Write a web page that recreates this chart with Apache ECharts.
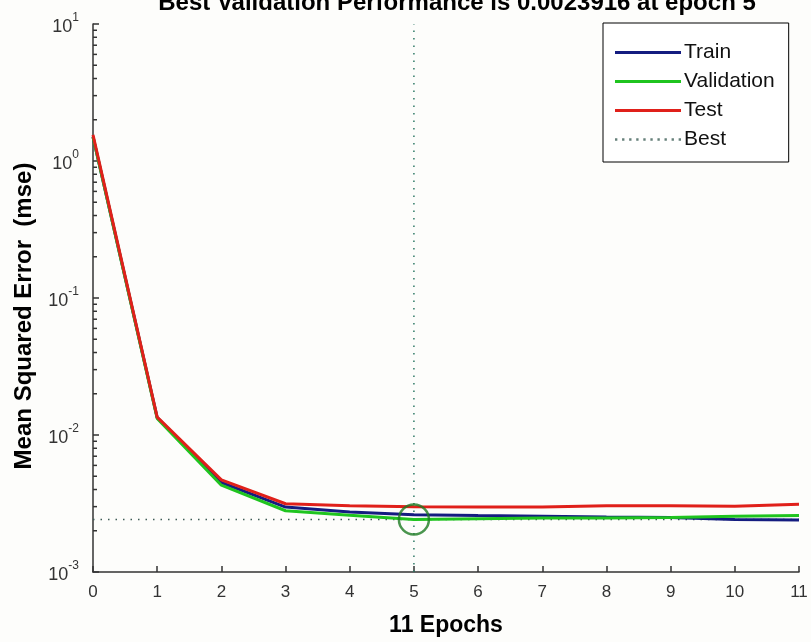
<!DOCTYPE html>
<html lang="en">
<head>
    <meta charset="UTF-8">
    <title>Performance</title>
    <style>
        html, body {
            margin: 0;
            padding: 0;
            background: #fdfdfb;
        }
        #main {
            width: 811px;
            height: 642px;
        }
    </style>
    <script src="https://cdn.jsdelivr.net/npm/echarts@6/dist/echarts.min.js"></script>
</head>
<body>
<div id="main"></div>
<script>
    // epochs 0..11
    var epochs = [0, 1, 2, 3, 4, 5, 6, 7, 8, 9, 10, 11];
    var trainMse = [1.5, 0.0134, 0.0045, 0.00298, 0.00274, 0.00262, 0.00258, 0.00255, 0.00252, 0.0025, 0.00242, 0.0024];
    var validMse = [1.5, 0.0132, 0.0043, 0.0028, 0.0026, 0.00242, 0.00245, 0.00248, 0.00248, 0.0025, 0.00255, 0.00258];
    var testMse = [1.55, 0.0135, 0.0047, 0.00315, 0.00305, 0.003, 0.00298, 0.00298, 0.00305, 0.00305, 0.00302, 0.00312];
    var bestEpoch = 5;
    var bestValue = validMse[bestEpoch];
    var yMin = 0.001;
    var yMax = 10;
    var xTicks = [0, 11];
    // minor ticks 2..9 for each decade
    var minorTicks = [];
    for (var k = -3; k < 1; k++) {
        for (var m = 2; m <= 9; m++) {
            minorTicks.push([0, m * Math.pow(10, k)]);
        }
    }

    var font = 'Liberation Sans, Arial, sans-serif';
    var dotIcon = 'path://M0,0h1v1h-1z M3,0h1v1h-1z M6,0h1v1h-1z M9,0h1v1h-1z M12,0h1v1h-1z M15,0h1v1h-1z M18,0h1v1h-1z M21,0h1v1h-1z M24,0h1v1h-1z M27,0h1v1h-1z';

    function pairs(vals) {
        return vals.map(function (v, i) {
            return [epochs[i], v];
        });
    }

    var chart = echarts.init(document.getElementById('main'));
    var option = {
        backgroundColor: '#fdfdfb',
        animation: false,
        title: {
            text: 'Best Validation Performance is 0.0023916 at epoch 5',
            left: 452,
            textAlign: 'center',
            top: -14,
            textStyle: {
                fontFamily: font,
                fontSize: 24,
                fontWeight: 'bold',
                color: '#000'
            }
        },
        grid: {
            left: 93,
            right: 12,
            top: 24,
            bottom: 70,
            outerBoundsMode: 'none'
        },
        legend: {
            orient: 'vertical',
            left: 603,
            top: 23,
            itemWidth: 66,
            itemHeight: 3,
            itemGap: 8,
            padding: [19, 14, 12, 12],
            borderColor: '#000',
            borderWidth: 1,
            borderRadius: 0,
            backgroundColor: '#fff',
            data: [
                {name: 'Train', icon: 'rect'},
                {name: 'Validation', icon: 'rect'},
                {name: 'Test', icon: 'rect'},
                {name: 'Best', icon: dotIcon}
            ],
            textStyle: {
                fontFamily: font,
                fontSize: 21,
                lineHeight: 20,
                color: '#111',
                padding: [0, 0, 0, -2]
            }
        },
        xAxis: {
            type: 'value',
            min: xTicks[0],
            max: xTicks[1],
            interval: 1,
            name: '11 Epochs',
            nameLocation: 'middle',
            nameGap: 42,
            nameTextStyle: {
                fontFamily: font,
                fontSize: 23,
                fontWeight: 'bold',
                color: '#000'
            },
            axisLine: {
                onZero: false,
                lineStyle: {color: '#333', width: 1.5}
            },
            axisTick: {
                inside: true,
                length: 6,
                lineStyle: {color: '#333', width: 1.5}
            },
            axisLabel: {
                fontFamily: font,
                fontSize: 17,
                color: '#333',
                margin: 12
            },
            splitLine: {show: false}
        },
        yAxis: {
            type: 'log',
            logBase: 10,
            min: yMin,
            max: yMax,
            name: 'Mean Squared Error  (mse)',
            nameLocation: 'middle',
            nameGap: 57,
            nameTextStyle: {
                fontFamily: font,
                fontSize: 24,
                fontWeight: 'bold',
                color: '#000',
                padding: [0, 36, 0, 0]
            },
            axisLine: {
                show: true,
                lineStyle: {color: '#333', width: 1.5}
            },
            axisTick: {
                inside: true,
                length: 6,
                lineStyle: {color: '#333', width: 1.5}
            },
            axisLabel: {
                margin: 14,
                formatter: function (v) {
                    var e = Math.round(Math.log10(v));
                    return '{b|10}{s|' + e + '}';
                },
                rich: {
                    b: {fontFamily: font, fontSize: 18, color: '#333', verticalAlign: 'bottom'},
                    s: {fontFamily: font, fontSize: 12, color: '#333', verticalAlign: 'top', padding: [0, 0, 12, 0]}
                }
            },
            splitLine: {show: false}
        },
        series: [
            {
                name: 'Train',
                type: 'line',
                symbol: 'none',
                data: pairs(trainMse),
                lineStyle: {color: '#141c80', width: 3},
                itemStyle: {color: '#141c80'}
            },
            {
                name: 'Validation',
                type: 'line',
                symbol: 'none',
                data: pairs(validMse),
                lineStyle: {color: '#1fc41f', width: 3},
                itemStyle: {color: '#1fc41f'}
            },
            {
                name: 'Test',
                type: 'line',
                symbol: 'none',
                data: pairs(testMse),
                lineStyle: {color: '#e0201a', width: 3},
                itemStyle: {color: '#e0201a'}
            },
            {
                name: 'Best',
                type: 'line',
                symbol: 'none',
                data: [[epochs[0], bestValue], [epochs[epochs.length - 1], bestValue]],
                lineStyle: {color: '#3d5a55', width: 1.5, type: [1.5, 6]},
                itemStyle: {color: '#66807a'},
                z: 1
            },
            {
                name: 'BestV',
                type: 'line',
                symbol: 'none',
                data: [[bestEpoch, yMin], [bestEpoch, yMax]],
                lineStyle: {color: '#2f7a66', width: 1.5, type: [1.5, 6]},
                z: 1
            },
            {
                name: 'BestPoint',
                type: 'scatter',
                data: [[bestEpoch, bestValue]],
                symbol: 'circle',
                symbolSize: 30,
                itemStyle: {color: 'rgba(0,0,0,0)', borderColor: '#1d7a22', borderWidth: 2.5},
                z: 5
            },
            {
                name: 'minor',
                type: 'custom',
                silent: true,
                data: minorTicks,
                renderItem: function (params, api) {
                    var p = api.coord([api.value(0), api.value(1)]);
                    return {
                        type: 'line',
                        shape: {x1: p[0], y1: p[1], x2: p[0] + 4, y2: p[1]},
                        style: {stroke: '#333', lineWidth: 1.5}
                    };
                },
                z: 3
            }
        ]
    };
    chart.setOption(option);
</script>
</body>
</html>
